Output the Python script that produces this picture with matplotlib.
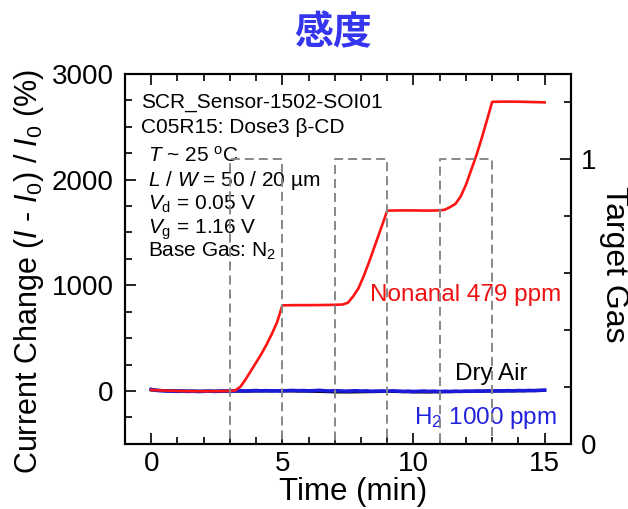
import numpy as np
import matplotlib
matplotlib.use("Agg")
import matplotlib.pyplot as plt
from matplotlib.ticker import MultipleLocator

plt.rcParams['font.family'] = ['Liberation Sans', 'DejaVu Sans']
plt.rcParams['mathtext.fontset'] = 'custom'
plt.rcParams['mathtext.rm'] = 'Liberation Sans'
plt.rcParams['mathtext.it'] = 'Liberation Sans:italic'
plt.rcParams['mathtext.bf'] = 'Liberation Sans:bold'
plt.rcParams['lines.scale_dashes'] = False

# nonanal response (time in min, current change in %)
red_t = [0, 0.3, 0.6, 1.0, 1.5, 2.0, 2.5, 3.0, 3.2, 3.4, 3.6, 3.8, 4.0, 4.2, 4.4,
         4.6, 4.8, 5.0, 5.5, 6.0, 6.5, 7.0, 7.3, 7.5, 7.7, 7.9, 8.1, 8.3, 8.5, 8.7,
         8.9, 9.0, 9.5, 10.0, 10.5, 11.0, 11.2, 11.4, 11.6, 11.8, 12.0, 12.2, 12.4,
         12.6, 12.8, 13.0, 13.5, 14.0, 14.5, 15.0]
red = [10, 6, 3, 0, -2, -3, -2, 0, 5, 40, 110, 190, 270, 350, 440,
       540, 650, 810, 812, 812, 813, 815, 818, 835, 895, 970, 1085, 1215, 1355, 1495,
       1635, 1706, 1708, 1708, 1706, 1708, 1715, 1740, 1770, 1840, 1950, 2090, 2230,
       2390, 2560, 2735, 2737, 2736, 2733, 2730]

# H2 1000 ppm response, every 0.2 min
blue = [15, 6, 2, 0, -2, -3, -1, -4, -2, -5, -3, -1, -4, -2, 0, -3, 1, 3, 0, 2,
        4, 1, 3, 0, 2, -1, 3, 5, 2, 4, 1, 3, 6, 2, 0, 3, 1, -2, 0, 2,
        -1, 1, -3, -1, 0, -2, 1, -1, -4, -2, -5, -3, -1, -4, -2, -6, -3, -5, -2, -4,
        -1, -3, 0, -2, 1, -1, 2, 0, 3, 1, 4, 2, 5, 3, 6, 8]
blue_t = np.round(np.arange(len(blue)) * 0.2, 1)

# dry air response, every 0.5 min
black = [10, 3, 0, -2, -3, -2, -1, -2, 0, 1, 2, 0, -2, -5, -9, -10, -8, -6, -4, -6,
         -9, -10, -8, -6, -4, -2, 0, 1, 2, 4, 6]
black_t = np.arange(len(black)) * 0.5

# target gas on/off sequence
gas_t = [0, 3, 3, 5, 5, 7, 7, 9, 9, 11, 11, 13, 13, 15]
gas = [0, 0, 1, 1, 0, 0, 1, 1, 0, 0, 1, 1, 0, 0]

fig = plt.figure(figsize=(6.28, 5.09), dpi=100)
ax = fig.add_axes([0.199, 0.128, 0.710, 0.727])
ax2 = ax.twinx()

ax.plot(black_t, black, color='black', lw=2.2, zorder=2)
ax.plot(blue_t, blue, color='#1a1ad8', lw=2.6, zorder=3)
ax.plot(red_t, red, color='#ff1414', lw=1.9, zorder=4)
ax2.plot(gas_t, gas, color='#888888', lw=1.4, dashes=(6.5, 3.6))

ax.set_xlim(-1, 16)
ax.set_ylim(-500, 3000)
ax2.set_ylim(0, 1.3)

ax.xaxis.set_major_locator(MultipleLocator(5))
ax.xaxis.set_minor_locator(MultipleLocator(1))
ax.yaxis.set_major_locator(MultipleLocator(1000))
ax.yaxis.set_minor_locator(MultipleLocator(250))
ax2.yaxis.set_major_locator(MultipleLocator(1))
ax2.yaxis.set_minor_locator(MultipleLocator(0.2))

ax.tick_params(axis='both', which='both', direction='in', width=1.2, labelsize=20)
ax.tick_params(axis='x', which='both', top=True)
ax.tick_params(axis='y', which='both', right=False)
ax.tick_params(axis='x', which='major', length=8, pad=5)
ax.tick_params(axis='y', which='major', length=8, pad=8)
ax.tick_params(which='minor', length=5)
ax2.tick_params(axis='y', which='both', direction='in', width=1.2, labelsize=20, pad=7)
ax2.tick_params(axis='y', which='major', length=8)
ax2.tick_params(axis='y', which='minor', length=5)

for a in (ax, ax2):
    for s in a.spines.values():
        s.set_linewidth(1.5)

ax.set_xlabel('Time (min)', fontsize=22.5, va='center')
ax.xaxis.set_label_coords(0.511, -0.13)
ax.set_ylabel(r'Current Change ($I$ - $I_0$) / $I_0$ (%)', fontsize=22, va='center')
ax.yaxis.set_label_coords(-0.216, 0.467)
ax2.set_ylabel('Target Gas', fontsize=23, rotation=270, va='center')
ax2.yaxis.set_label_coords(1.096, 0.485)

# condition notes
ax.text(-0.37, 2744, 'SCR_Sensor-1502-SOI01', fontsize=15, va='center_baseline')
ax.text(-0.37, 2507, 'C05R15: Dose3 β-CD', fontsize=15, va='center_baseline')
notes = [r'$T$ ~ 25 $^{\rm o}$C', r'$L$ / $W$ = 50 / 20 µm', r'$V_{\rm d}$ = 0.05 V',
         r'$V_{\rm g}$ = 1.16 V', r'Base Gas: N$_2$']
for i, s in enumerate(notes):
    ax.text(-0.14, 2242 - i * 225, s, fontsize=15, va='center_baseline')

ax.text(8.35, 927, 'Nonanal 479 ppm', fontsize=17.5, color='#ee1111', va='center_baseline')
ax.text(14.33, 180, 'Dry Air', fontsize=17.5, color='black', ha='right', va='center_baseline')
ax.text(15.48, -218, r'H$_2$ 1000 ppm', fontsize=17.5, color='#2222dd', ha='right',
        va='center_baseline')

fig.text(0.530, 0.935, '感度', fontsize=28, fontweight='bold', color='#3535f0',
         family=['Noto Sans CJK JP', 'DejaVu Sans'], ha='center', va='center')

fig.savefig('out.png', dpi=100)
